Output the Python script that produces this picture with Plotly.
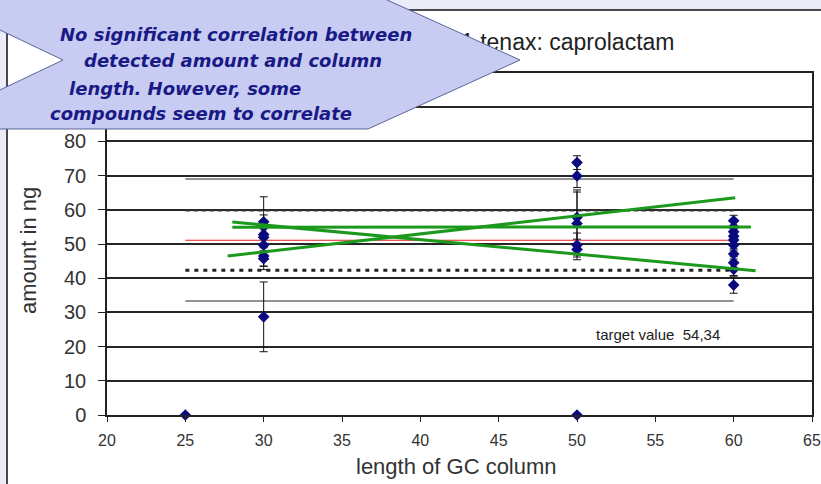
import plotly.graph_objects as go

# ---------------- data ----------------
col_30_amount = [56.5, 55.0, 52.8, 52.0, 49.7, 46.5, 45.7, 28.7]
col_30_err = [7.3, 3.5, 3.0, 4.0, 6.2, 3.0, 3.2, 10.2]
col_50_amount = [73.8, 69.9, 57.8, 56.0, 49.7, 48.4]
col_50_err = [2.0, 3.4, 8.0, 9.2, 3.5, 3.0]
col_60_amount = [56.8, 55.0, 53.6, 52.3, 51.2, 49.7, 47.1, 44.5, 42.6, 38.0]
col_60_err = [1.6, 1.5, 1.5, 1.5, 1.5, 1.5, 1.5, 1.8, 1.8, 2.4]
zero_lengths = [25, 50]
zero_amounts = [0, 0]

ref_span = [25, 60]
mean_value = 51.1
inner_limits = [59.8, 42.3]
outer_limits = [69.0, 33.3]

trend_up_x, trend_up_y = [27.7, 60.1], [46.5, 63.5]
trend_flat_x, trend_flat_y = [28.0, 61.1], [54.9, 55.0]
trend_down_x, trend_down_y = [28.0, 61.4], [56.4, 42.2]

x_ticks = [20, 25, 30, 35, 40, 45, 50, 55, 60, 65]
y_ticks = [0, 10, 20, 30, 40, 50, 60, 70, 80, 90, 100]
y_tick_labels = ["0", "10", "20", "30", "40", "50", "60", "70", "80", "", ""]

title_text = "1 tenax: caprolactam"
x_title = "length of GC column"
y_title = "amount in ng"
target_text = "target value  54,34"
callout_lines = ["No significant correlation between",
                 "detected amount and column",
                 "length. However, some",
                 "compounds seem to correlate"]

# ---------------- layout helpers ----------------
W_FIG, H_FIG = 821, 484
L, R, T, B = 107, 9, 73, 69
PW = W_FIG - L - R
PH = H_FIG - T - B


def px_x(px):
    return (px - L) / PW


def px_y(py):
    return (H_FIG - B - py) / PH


lengths = [30] * len(col_30_amount) + [50] * len(col_50_amount) + [60] * len(col_60_amount) + zero_lengths
amounts = col_30_amount + col_50_amount + col_60_amount + zero_amounts
errors = col_30_err + col_50_err + col_60_err + [0] * len(zero_amounts)

fig = go.Figure()

# reference lines
for v in outer_limits:
    fig.add_trace(go.Scatter(x=ref_span, y=[v, v], mode="lines",
                             line=dict(color="#6e6e6e", width=1.5), hoverinfo="skip"))
fig.add_trace(go.Scatter(x=ref_span, y=[inner_limits[0]] * 2, mode="lines",
                         line=dict(color="#333333", width=2, dash="5px,3px"), hoverinfo="skip"))
fig.add_trace(go.Scatter(x=ref_span, y=[inner_limits[1]] * 2, mode="lines",
                         line=dict(color="#222222", width=3, dash="4px,5px"), hoverinfo="skip"))
fig.add_trace(go.Scatter(x=ref_span, y=[mean_value] * 2, mode="lines",
                         line=dict(color="#e02020", width=1.2), hoverinfo="skip"))

# points
fig.add_trace(go.Scatter(x=lengths, y=amounts, mode="markers",
                         marker=dict(symbol="diamond", size=9, color="#0a0a80"),
                         error_y=dict(type="data", array=errors, color="#111111",
                                      thickness=1, width=4),
                         cliponaxis=False))

# trend lines
for tx, ty in [(trend_up_x, trend_up_y), (trend_flat_x, trend_flat_y), (trend_down_x, trend_down_y)]:
    fig.add_trace(go.Scatter(x=tx, y=ty, mode="lines",
                             line=dict(color="#1c991c", width=3), hoverinfo="skip"))

# callout polygon
pts = [(-20, -10), (365, -10), (520, 60), (368, 129), (-20, 129),
       (-20, 99.5), (63, 60), (-20, 20.5)]
path = "M " + " L ".join(f"{px_x(a):.5f},{px_y(b):.5f}" for a, b in pts) + " Z"

shapes = [
    # white chart area with frame
    dict(type="rect", xref="paper", yref="paper", layer="below",
         x0=px_x(7), x1=px_x(840), y0=px_y(500), y1=px_y(10),
         fillcolor="white", line=dict(color="#111111", width=1.5)),
    # chart title (drawn as shape label so the callout covers it)
    dict(type="rect", xref="paper", yref="paper", layer="above",
         x0=px_x(458), x1=px_x(720), y0=px_y(52), y1=px_y(28),
         fillcolor="rgba(0,0,0,0)", line=dict(width=0),
         label=dict(text=title_text, textposition="middle left", padding=0,
                    font=dict(family="Liberation Sans, Arial", size=23, color="#222222"))),
    # callout
    dict(type="path", xref="paper", yref="paper", layer="above", path=path,
         fillcolor="#c8ccf3", line=dict(color="#5b6596", width=1)),
]

callout_pos = [(58, 34), (82, 61), (67, 88), (48, 114)]
annotations = []
for text, (ax_, ay_) in zip(callout_lines, callout_pos):
    annotations.append(dict(text=f"<b><i>{text}</i></b>", xref="paper", yref="paper",
                            x=px_x(ax_), y=px_y(ay_), xanchor="left", yanchor="middle",
                            showarrow=False,
                            font=dict(family="DejaVu Sans", size=18, color="#1a1a86")))
annotations.append(dict(text=target_text, xref="x", yref="y", x=55.16, y=23.4,
                        showarrow=False, xanchor="center", yanchor="middle",
                        font=dict(family="Liberation Sans, Arial", size=15, color="#222222")))
annotations.append(dict(text=y_title, xref="paper", yref="paper", x=px_x(28), y=px_y(251),
                        textangle=-90, showarrow=False, xanchor="center", yanchor="middle",
                        font=dict(family="Liberation Sans, Arial", size=22, color="#333333")))
annotations.append(dict(text=x_title, xref="paper", yref="paper", x=px_x(456), y=px_y(466),
                        showarrow=False, xanchor="center", yanchor="middle",
                        font=dict(family="Liberation Sans, Arial", size=22, color="#333333")))

fig.update_layout(
    width=W_FIG, height=H_FIG,
    margin=dict(l=L, r=R, t=T, b=B, autoexpand=False),
    paper_bgcolor="#ececf9", plot_bgcolor="white",
    showlegend=False,
    shapes=shapes, annotations=annotations,
    xaxis=dict(range=[20, 65], tickvals=x_ticks, ticktext=[str(v) for v in x_ticks],
               showgrid=False, zeroline=False,
               showline=True, linecolor="#222222", linewidth=1.5, mirror=True,
               ticks="outside", ticklen=5, tickcolor="#222222", tickwidth=1.2,
               ticklabelstandoff=5,
               tickfont=dict(family="Liberation Sans, Arial", size=16, color="#333333")),
    yaxis=dict(range=[0, 100], tickvals=y_ticks, ticktext=y_tick_labels,
               showgrid=True, gridcolor="#262626", gridwidth=1.5, zeroline=False,
               showline=True, linecolor="#222222", linewidth=1.5, mirror=True,
               ticks="outside", ticklen=7, tickcolor="#222222", tickwidth=1.2,
               ticklabelstandoff=8,
               tickfont=dict(family="Liberation Sans, Arial", size=20, color="#333333")),
)

fig.write_html("out.html",
               config={"displayModeBar": False},
               post_script="document.body.style.margin='0px';"
                           "document.body.style.overflow='hidden';"
                           "document.body.style.background='#ececf9';")
